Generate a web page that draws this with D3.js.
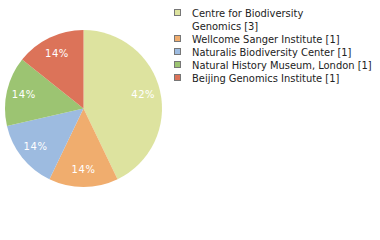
<!DOCTYPE html>
<html>
<head>
<meta charset="utf-8">
<script src="https://cdn.jsdelivr.net/npm/d3@7"></script>
<style>
  body { margin: 0; background: #fff; }
  svg { display: block; }
</style>
</head>
<body>
<div id="chart"></div>
<script>
// data
var institutions = ["Centre for Biodiversity Genomics", "Wellcome Sanger Institute", "Naturalis Biodiversity Center", "Natural History Museum, London", "Beijing Genomics Institute"];
var counts = [3, 1, 1, 1, 1];
var sliceColors = ["#dde39f", "#f0ad6e", "#9dbbe0", "#9cc472", "#dc7359"];
var legendLines = [["Centre for Biodiversity", "Genomics [3]"], ["Wellcome Sanger Institute [1]"], ["Naturalis Biodiversity Center [1]"], ["Natural History Museum, London [1]"], ["Beijing Genomics Institute [1]"]];

var width = 380, height = 240;
var cx = 83.5, cy = 108.5, radius = 78.5;

var svg = d3.select("#chart").append("svg")
    .attr("width", width)
    .attr("height", height);

var total = d3.sum(counts);
var data = institutions.map(function (d, i) {
    return { name: d, value: counts[i], color: sliceColors[i] };
});

var pie = d3.pie()
    .sort(null)
    .value(function (d) { return d.value; });

var arc = d3.arc().innerRadius(0).outerRadius(radius);
var labelArc = d3.arc().innerRadius(radius * 0.78).outerRadius(radius * 0.78);

var g = svg.append("g")
    .attr("transform", "translate(" + cx + "," + cy + ")");

var slices = g.selectAll("g.slice")
    .data(pie(data))
    .enter()
    .append("g")
    .attr("class", "slice");

slices.append("path")
    .attr("d", arc)
    .attr("fill", function (d) { return d.data.color; });

slices.append("text")
    .attr("transform", function (d) { return "translate(" + labelArc.centroid(d) + ")"; })
    .attr("text-anchor", "middle")
    .attr("dy", "0.35em")
    .attr("fill", "#fff")
    .style("font-family", "'DejaVu Sans', Verdana, sans-serif")
    .style("font-size", "10px")
    .style("letter-spacing", "0.6px")
    .text(function (d) { return Math.floor(d.data.value / total * 100) + "%"; });

// legend
var legend = svg.append("g")
    .attr("transform", "translate(174,0)");

var y = 13;
legendLines.forEach(function (lines, i) {
    legend.append("rect")
        .attr("x", 0.5)
        .attr("y", y - 3.5)
        .attr("width", 6)
        .attr("height", 6)
        .attr("fill", sliceColors[i])
        .attr("stroke", "#777")
        .attr("stroke-width", 1);
    lines.forEach(function (t, j) {
        legend.append("text")
            .attr("x", 18)
            .attr("y", y + j * 13)
            .attr("dy", "0.35em")
            .attr("fill", "#222")
            .style("font-family", "'DejaVu Sans Condensed', 'DejaVu Sans', sans-serif")
            .style("font-size", "11px")
            .text(t);
    });
    y += lines.length * 13;
});
</script>
</body>
</html>
